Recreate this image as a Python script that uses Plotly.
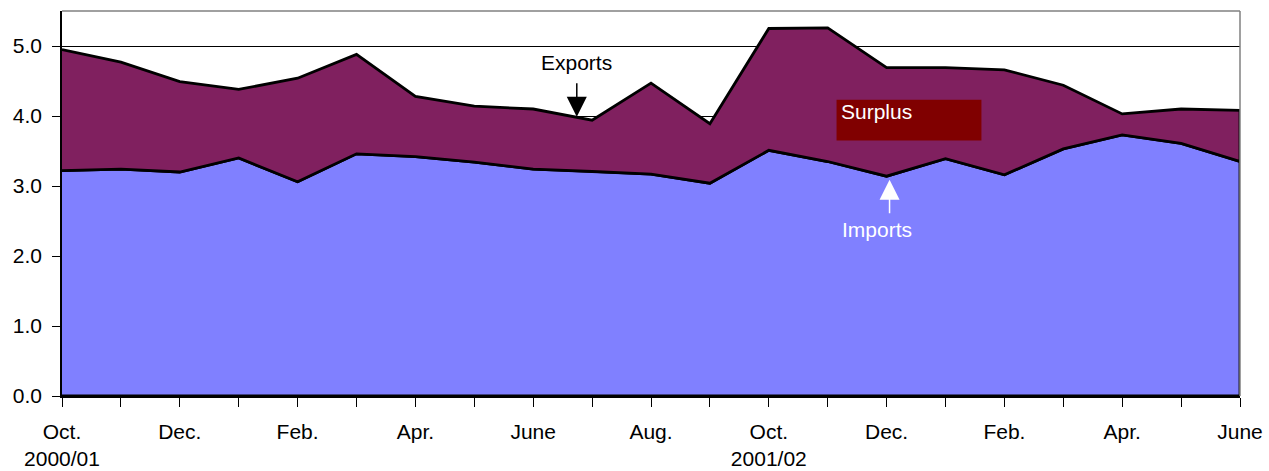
import plotly.graph_objects as go

months = ["Oct.", "Nov.", "Dec.", "Jan.", "Feb.", "Mar.", "Apr.", "May", "June", "July", "Aug.", "Sep.",
          "Oct.", "Nov.", "Dec.", "Jan.", "Feb.", "Mar.", "Apr.", "May", "June"]
tick_labels = ["Oct.<br>2000/01", "", "Dec.", "", "Feb.", "", "Apr.", "", "June", "", "Aug.", "",
               "Oct.<br>2001/02", "", "Dec.", "", "Feb.", "", "Apr.", "", "June"]
exports = [4.95, 4.77, 4.49, 4.38, 4.54, 4.88, 4.28, 4.14, 4.10, 3.94, 4.47, 3.89,
           5.25, 5.26, 4.69, 4.69, 4.66, 4.44, 4.03, 4.10, 4.08]
imports = [3.22, 3.24, 3.20, 3.40, 3.06, 3.46, 3.42, 3.34, 3.24, 3.21, 3.17, 3.04,
           3.51, 3.35, 3.14, 3.39, 3.16, 3.53, 3.73, 3.61, 3.35]

idx = list(range(len(months)))
font = "Arial, Liberation Sans, sans-serif"

fig = go.Figure()
# Imports area (closed polygon down to zero)
fig.add_trace(go.Scatter(
    x=idx + idx[::-1], y=imports + [0] * len(idx), fill="toself",
    fillcolor="#8080FF", line=dict(color="black", width=2.8), mode="lines",
    hoverinfo="skip", name="Imports"))
# Surplus area between imports and exports
fig.add_trace(go.Scatter(
    x=idx + idx[::-1], y=exports + imports[::-1], fill="toself",
    fillcolor="#80205F", line=dict(color="black", width=2.8), mode="lines",
    hoverinfo="skip", name="Surplus"))

# Surplus label box
fig.add_shape(type="rect", x0=13.15, x1=15.61, y0=3.651, y1=4.233,
              fillcolor="#800000", line=dict(width=0), layer="above")
fig.add_annotation(x=13.2, y=4.06, text="Surplus", showarrow=False, xanchor="left",
                   font=dict(family=font, size=21, color="white"))

# Exports label and arrow
fig.add_annotation(x=8.74, y=4.76, text="Exports", showarrow=False,
                   font=dict(family=font, size=21, color="black"))
fig.add_annotation(x=8.74, y=3.99, text="", showarrow=True, ax=0, ay=-35,
                   arrowhead=2, arrowsize=2.67, arrowwidth=1.5, arrowcolor="black")

# Imports label and arrow
fig.add_annotation(x=13.84, y=2.376, text="Imports", showarrow=False,
                   font=dict(family=font, size=21, color="white"))
fig.add_annotation(x=14.05, y=3.09, text="", showarrow=True, ax=0, ay=35,
                   arrowhead=2, arrowsize=2.67, arrowwidth=1.5, arrowcolor="white")

# gray frame on top and right
fig.add_shape(type="line", xref="paper", yref="paper", x0=0, x1=1, y0=1, y1=1,
              line=dict(color="#808080", width=1.5))
fig.add_shape(type="line", xref="paper", yref="paper", x0=1, x1=1, y0=0, y1=1,
              line=dict(color="#808080", width=1.5))

fig.update_layout(
    width=1269, height=471,
    margin=dict(l=62, r=29, t=11, b=75, autoexpand=False),
    plot_bgcolor="white", paper_bgcolor="white",
    showlegend=False,
    font=dict(family=font, size=21, color="black"),
    xaxis=dict(range=[0, 20], tickmode="array", tickvals=idx, ticktext=tick_labels,
               ticks="outside", ticklen=9, tickcolor="black", tickwidth=1,
               ticklabelstandoff=7, automargin=False,
               showgrid=False, zeroline=False, showline=True, linecolor="black",
               linewidth=1.5, tickfont=dict(family=font, size=21, color="black")),
    yaxis=dict(range=[0, 5.5], tickmode="array", tickvals=[0, 1, 2, 3, 4, 5],
               tickformat=".1f", ticks="outside", ticklen=8, tickcolor="black",
               ticklabelstandoff=6, automargin=False,
               showgrid=True, gridcolor="black", gridwidth=1, zeroline=False,
               showline=True, linecolor="black", linewidth=1.5,
               tickfont=dict(family=font, size=21, color="black")),
)

fig.write_html("out.html", config={"displayModeBar": False},
               post_script="document.body.style.margin='0';")
